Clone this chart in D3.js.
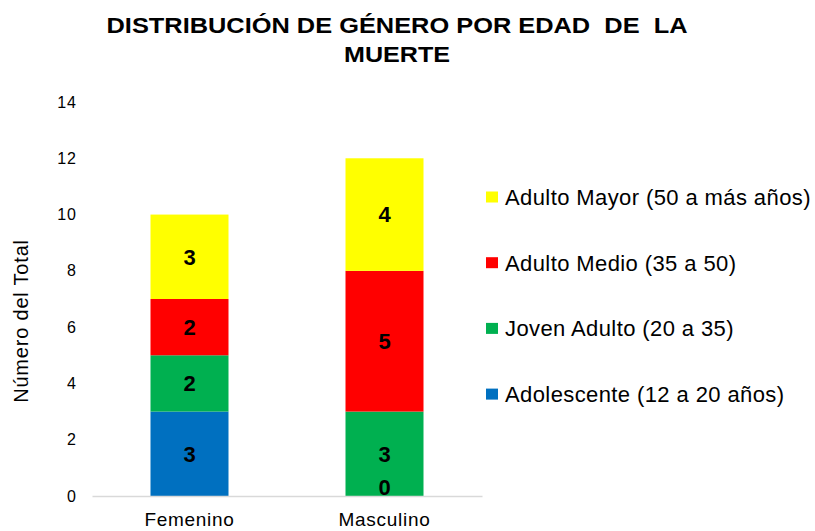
<!DOCTYPE html>
<html>
<head>
<meta charset="utf-8">
<script src="https://cdn.jsdelivr.net/npm/d3@7"></script>
<style>
  body { margin: 0; background: #fff; }
  text { font-family: "Liberation Sans", Arial, sans-serif; }
</style>
</head>
<body>
<svg id="chart" width="815" height="531"></svg>
<script>
'use strict'

// categories + series (stack order bottom -> top)
var categories = ["Femenino", "Masculino"]
var seriesNames = [
  "Adolescente (12 a 20 años)",
  "Joven Adulto (20 a 35)",
  "Adulto Medio (35 a 50)",
  "Adulto Mayor (50 a más años)"
]
var adolescente = [3, 0]
var jovenAdulto = [2, 3]
var adultoMedio = [2, 5]
var adultoMayor = [3, 4]
var yTicks = [0, 2, 4, 6, 8, 10, 12, 14]
var colors = ["#0070C0", "#00B050", "#FF0000", "#FFFF00"]

var svg = d3.select("#chart")

var plot = { left: 92, right: 482, top: 102, bottom: 496 }

var x = d3.scaleBand()
  .domain(categories)
  .range([plot.left, plot.right])
  .paddingInner(0.6)
  .paddingOuter(0.3)

var y = d3.scaleLinear()
  .domain([0, 14])
  .range([plot.bottom, plot.top])

// build rows for d3.stack
var seriesData = [adolescente, jovenAdulto, adultoMedio, adultoMayor]
var rows = categories.map(function(c, i) {
  var r = { cat: c }
  seriesNames.forEach(function(s, k) { r[s] = seriesData[k][i] })
  return r
})
var stacked = d3.stack().keys(seriesNames)(rows)

// title (excel renders it a bit stretched, so force the widths)
var title = svg.append("text")
  .attr("text-anchor", "middle")
  .style("font-weight", "bold")
  .style("font-size", "22.5px")
  .style("white-space", "pre")
  .attr("fill", "#000")
title.append("tspan").attr("x", 397).attr("y", 33)
  .attr("textLength", 581).attr("lengthAdjust", "spacingAndGlyphs")
  .text("DISTRIBUCIÓN DE GÉNERO POR EDAD  DE  LA")
title.append("tspan").attr("x", 397).attr("y", 62)
  .attr("textLength", 106).attr("lengthAdjust", "spacingAndGlyphs")
  .text("MUERTE")

// y axis (labels only)
var yAxis = d3.axisLeft(y).tickValues(yTicks).tickSize(0).tickPadding(0)
var gy = svg.append("g")
  .attr("transform", "translate(77,0)")
  .call(yAxis)
gy.select(".domain").remove()
gy.selectAll("text")
  .style("font-family", "'Liberation Sans', Arial, sans-serif")
  .style("font-size", "16px")
  .style("letter-spacing", "1px")
  .attr("fill", "#000")

svg.append("text")
  .attr("transform", "translate(28,321) rotate(-90)")
  .attr("text-anchor", "middle")
  .style("font-size", "20px")
  .style("letter-spacing", "0.8px")
  .attr("fill", "#000")
  .text("Número del Total")

// bars
var layers = svg.append("g").selectAll("g")
  .data(stacked)
  .join("g")
  .attr("fill", function(d, i) { return colors[i] })

layers.selectAll("rect")
  .data(function(d) { return d })
  .join("rect")
  .attr("x", function(d) { return x(d.data.cat) })
  .attr("y", function(d) { return y(d[1]) })
  .attr("width", x.bandwidth())
  .attr("height", function(d) { return y(d[0]) - y(d[1]) })

// x axis line
var xAxis = d3.axisBottom(x).tickSize(0).tickPadding(17)
var gx = svg.append("g")
  .attr("transform", "translate(0," + plot.bottom + ")")
  .call(xAxis)
gx.select(".domain").attr("stroke", "#d9d9d9").attr("stroke-width", 1.5)
gx.selectAll("text")
  .style("font-family", "'Liberation Sans', Arial, sans-serif")
  .style("font-size", "19px")
  .style("letter-spacing", "0.7px")
  .attr("fill", "#000")

// data labels, drawn on top of all the bars so the zero one stays visible
var labelData = d3.merge(stacked)
svg.append("g").selectAll("text")
  .data(labelData)
  .join("text")
  .attr("x", function(d) { return x(d.data.cat) + x.bandwidth() / 2 })
  .attr("y", function(d) { return Math.min((y(d[0]) + y(d[1])) / 2, y(d[0]) - 9) })
  .attr("dy", "0.36em")
  .attr("text-anchor", "middle")
  .attr("fill", "#000")
  .style("font-weight", "bold")
  .style("font-size", "22px")
  .text(function(d) { return d[1] - d[0] })

// legend (top -> bottom reversed order)
var legendItems = seriesNames.map(function(s, i) { return { name: s, color: colors[i] } }).reverse()
var legend = svg.append("g").attr("transform", "translate(486,197)")
var li = legend.selectAll("g")
  .data(legendItems)
  .join("g")
  .attr("transform", function(d, i) { return "translate(0," + (i * 65.7) + ")" })
li.append("rect")
  .attr("x", 0).attr("y", -5.5)
  .attr("width", 12).attr("height", 11)
  .attr("fill", function(d) { return d.color })
li.append("text")
  .attr("x", 19).attr("y", 0).attr("dy", "0.36em")
  .style("font-size", "22px")
  .style("letter-spacing", "0.4px")
  .attr("fill", "#000")
  .text(function(d) { return d.name })
</script>
</body>
</html>
